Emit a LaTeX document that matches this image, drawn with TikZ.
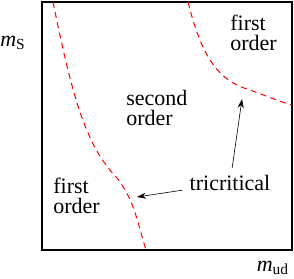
\documentclass[tikz,border=0pt]{standalone}
\usepackage{fontspec}
\setmainfont{Liberation Serif}
\usetikzlibrary{arrows.meta, positioning}

\begin{document}
\begin{tikzpicture}[
    x=0.5pt, y=-0.5pt,
    font=\fontsize{11}{10}\selectfont,
    frame/.style={draw=black, line width=0.8pt},
    boundary/.style={draw=red, line width=0.5pt, dash pattern=on 3pt off 2.2pt},
    region/.style={align=left, anchor=north west, inner sep=0pt},
    axis/.style={inner sep=0pt},
    arrow/.style={line width=0.3pt, -{Stealth[length=4.5pt, width=3pt]}}
]
\useasboundingbox (0,0) rectangle (294,278);
\draw [frame] (42,2) rectangle (292,250);

% axis labels
\node (ms) [axis] at (13,43) {\textit{m}\textsubscript{S}};
\node (mud) [axis] at (273,268) {\textit{m}\textsubscript{ud}};

% phase boundaries
\draw [boundary] (53,2) .. controls (72,95) and (85,145) .. (117,178)
    .. controls (135,201) and (138,225) .. (146,250);
\draw [boundary] (188,2) .. controls (200,50) and (215,78) .. (244,88)
    .. controls (262,94) and (275,100) .. (292,105);
\coordinate (tcleft) at (137,197);
\coordinate (tcright) at (242,99);

\node (second) [region] at (126,90) {second\\order};
\node (firsttop) [region] at (230,15) {first\\order};
\node (firstbot) [region] at (53,178) {first\\order};
\node (tri) at (230,183) {tricritical};

\draw [arrow] (tri) -- (tcright);
\draw [arrow] (tri) -- (tcleft);
\end{tikzpicture}
\end{document}
